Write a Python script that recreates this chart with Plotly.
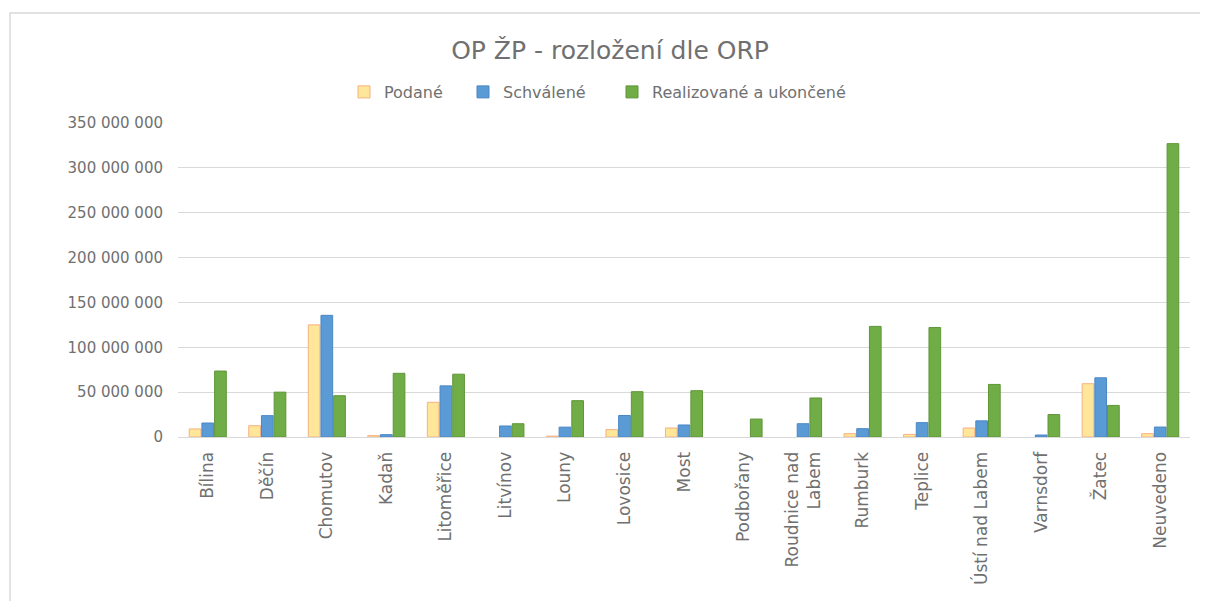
import plotly.graph_objects as go

categories = ["Bílina", "Děčín", "Chomutov", "Kadaň", "Litoměřice", "Litvínov", "Louny",
              "Lovosice", "Most", "Podbořany", "Roudnice nad<br>Labem", "Rumburk", "Teplice",
              "Ústí nad Labem", "Varnsdorf", "Žatec", "Neuvedeno"]

podane = [9.0e6, 12.6e6, 125.0e6, 1.5e6, 38.7e6, None, 1.0e6, 8.2e6, 10.0e6, None, None,
          3.7e6, 2.9e6, 10.0e6, None, 59.4e6, 3.7e6]
schvalene = [15.6e6, 23.8e6, 135.6e6, 2.6e6, 57.0e6, 12.3e6, 11.0e6, 24.0e6, 13.4e6, None, 14.8e6,
             9.3e6, 16.0e6, 18.0e6, 2.2e6, 66.0e6, 11.1e6]
realizovane = [73.5e6, 50.0e6, 46.0e6, 71.0e6, 70.0e6, 14.8e6, 40.5e6, 50.5e6, 51.6e6, 20.0e6, 43.5e6,
               123.3e6, 122.0e6, 58.6e6, 25.0e6, 35.2e6, 327.0e6]

series_names = ["Podané", "Schválené", "Realizované a ukončené"]

FONT = "DejaVu Sans ExtraLight, DejaVu Sans"
TXT = "#707070"

fig = go.Figure()
fig.add_trace(go.Bar(x=categories, y=podane, name=series_names[0], legend="legend",
                     showlegend=True,
                     marker=dict(color="#FFE699", line=dict(color="#F4B183", width=1))))
fig.add_trace(go.Bar(x=categories, y=schvalene, name=series_names[1], legend="legend2",
                     showlegend=True,
                     marker=dict(color="#5B9BD5", line=dict(color="#4A86C5", width=1))))
fig.add_trace(go.Bar(x=categories, y=realizovane, name=series_names[2], legend="legend3",
                     showlegend=True,
                     marker=dict(color="#70AD47", line=dict(color="#5E9638", width=1))))

OFF = 8  # page body margin
W, H = 1200, 593
L = 178 - OFF
T = 123 - OFF
R = W - (1190 - OFF)
B = H - (437 - OFF)
pw, ph = W - L - R, H - T - B


def px_x(sx):
    return (sx - OFF - L) / pw


def px_y(sy):
    return (H - B - (sy - OFF)) / ph


leg_common = dict(orientation="h", yanchor="middle", xanchor="left", y=px_y(92),
                  font=dict(family=FONT, size=16, color=TXT), itemwidth=30,
                  bgcolor="rgba(0,0,0,0)")

fig.update_layout(
    width=W, height=H,
    margin=dict(l=L, r=R, t=T, b=B, autoexpand=False),
    paper_bgcolor="white", plot_bgcolor="white",
    separators=". ",
    showlegend=True,
    title=dict(text="OP ŽP - rozložení dle ORP", x=(610 - OFF) / W, xanchor="center",
               y=1 - (50 - OFF) / H, yanchor="middle",
               font=dict(family=FONT, size=25, color=TXT)),
    barmode="group", bargap=0.36, bargroupgap=0.08,
    legend=dict(x=px_x(344), **leg_common),
    legend2=dict(x=px_x(463), **leg_common),
    legend3=dict(x=px_x(612), **leg_common),
    xaxis=dict(tickangle=-90, tickfont=dict(family=FONT, size=17, color=TXT),
               showline=True, linecolor="#d9d9d9", linewidth=1, ticks="",
               showgrid=False, ticklabelstandoff=7, automargin=False),
    yaxis=dict(range=[0, 350e6], dtick=50e6, tickformat=",d",
               tickfont=dict(family=FONT, size=15, color=TXT),
               gridcolor="#d9d9d9", gridwidth=1, zeroline=False, showline=False,
               ticks="", ticklen=0, ticklabelstandoff=14, automargin=False),
    shapes=[dict(type="rect", xref="paper", yref="paper",
                 x0=px_x(10), x1=px_x(1240), y0=px_y(650), y1=px_y(13),
                 line=dict(color="#d9d9d9", width=1.5), fillcolor="rgba(0,0,0,0)",
                 layer="below")],
)

fig.write_html("out.html")
